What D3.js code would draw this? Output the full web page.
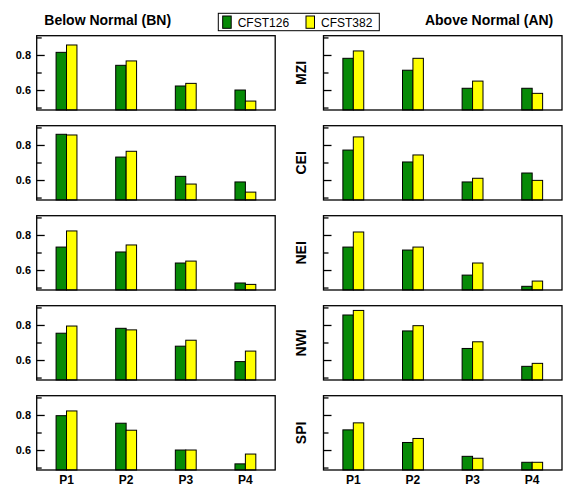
<!DOCTYPE html>
<html>
<head>
<meta charset="utf-8">
<script src="https://cdn.jsdelivr.net/npm/d3@7"></script>
<style>
  body { margin: 0; background: #fff; }
  svg { display: block; font-family: "Liberation Sans", Arial, Helvetica, sans-serif; }
</style>
</head>
<body>
<svg id="chart" width="579" height="503"></svg>
<script>
// categories
const periods = ["P1", "P2", "P3", "P4"];
const models = ["CFST126", "CFST382"];
const regions = ["MZI", "CEI", "NEI", "NWI", "SPI"];
const columns = ["Below Normal (BN)", "Above Normal (AN)"];

// Below Normal, one row per region (P1..P4)
const bn126 = [
  [0.815, 0.741, 0.623, 0.600],
  [0.861, 0.731, 0.621, 0.589],
  [0.731, 0.703, 0.640, 0.526],
  [0.753, 0.781, 0.679, 0.591],
  [0.796, 0.753, 0.600, 0.521]
];
const bn382 = [
  [0.857, 0.766, 0.638, 0.537],
  [0.857, 0.764, 0.577, 0.531],
  [0.823, 0.743, 0.651, 0.518],
  [0.794, 0.772, 0.713, 0.651],
  [0.823, 0.713, 0.600, 0.577]
];

// Above Normal
const an126 = [
  [0.781, 0.713, 0.610, 0.610],
  [0.771, 0.703, 0.589, 0.640],
  [0.731, 0.714, 0.571, 0.507],
  [0.857, 0.766, 0.666, 0.564],
  [0.715, 0.643, 0.564, 0.530]
];
const an382 = [
  [0.823, 0.781, 0.651, 0.581],
  [0.846, 0.743, 0.610, 0.598],
  [0.817, 0.731, 0.640, 0.537],
  [0.883, 0.796, 0.704, 0.581],
  [0.755, 0.666, 0.553, 0.530]
];

const yDomain = [0.486, 0.91];
const majorTicks = [0.6, 0.8];
const minorTicks = [0.5, 0.7, 0.9];

const colors = ["#078a07", "#ffff00"];

const svg = d3.select("#chart");

const panelW = 238.5, panelH = 74.3;
const colX = [36.7, 323.5];
const rowY = regions.map((r, i) => 35.7 + 90 * i);

const x = d3.scaleBand().domain(periods).range([0, panelW])
  .paddingInner(0.65).paddingOuter(0.325);
const xs = d3.scaleBand().domain(models).range([0, x.bandwidth()]);
const y = d3.scaleLinear().domain(yDomain).range([panelH, 0]);

const data = [[bn126, bn382], [an126, an382]];

columns.forEach((title, c) => {
  regions.forEach((region, r) => {
    const g = svg.append("g")
      .attr("transform", `translate(${colX[c]},${rowY[r]})`);

    // bars
    const rows = periods.map((p, k) => ({
      period: p,
      values: models.map((m, s) => ({ model: m, s: s, v: data[c][s][r][k] }))
    }));

    g.append("g").selectAll("g")
      .data(rows)
      .join("g")
      .attr("transform", d => `translate(${x(d.period)},0)`)
      .selectAll("rect")
      .data(d => d.values)
      .join("rect")
      .attr("x", d => xs(d.model))
      .attr("y", d => y(d.v))
      .attr("width", xs.bandwidth())
      .attr("height", d => panelH - y(d.v))
      .attr("fill", d => colors[d.s])
      .attr("stroke", "#000")
      .attr("stroke-width", 1);

    // minor ticks
    const minor = g.append("g")
      .call(d3.axisLeft(y).tickValues(minorTicks).tickSizeInner(-5).tickSizeOuter(0).tickFormat(""));
    minor.select(".domain").remove();
    minor.selectAll("line").attr("stroke-width", 1.3);

    // major ticks
    const major = g.append("g")
      .call(d3.axisLeft(y).tickValues(majorTicks).tickSizeInner(-8).tickSizeOuter(0)
        .tickPadding(5.7).tickFormat(c === 0 ? d3.format(".1f") : ""));
    major.select(".domain").remove();
    major.selectAll("line").attr("stroke-width", 1.3);
    major.selectAll("text")
      .attr("font-size", 11)
      .attr("font-weight", "bold")
      .attr("fill", "#000")
      .attr("font-family", "Liberation Sans, Arial, sans-serif");

    // frame
    g.append("rect")
      .attr("width", panelW)
      .attr("height", panelH)
      .attr("fill", "none")
      .attr("stroke", "#000")
      .attr("stroke-width", 1.3);

    // period labels on bottom row
    if (r === regions.length - 1) {
      g.append("g").selectAll("text")
        .data(periods)
        .join("text")
        .attr("x", d => x(d) + x.bandwidth() / 2)
        .attr("y", panelH + 14)
        .attr("text-anchor", "middle")
        .attr("font-size", 12)
        .attr("font-weight", "bold")
        .text(d => d);
    }

    // region label between columns
    if (c === 1) {
      svg.append("text")
        .attr("transform", `translate(305.5,${rowY[r] + panelH / 2}) rotate(-90)`)
        .attr("text-anchor", "middle")
        .attr("font-size", 14)
        .attr("font-weight", "bold")
        .text(region);
    }
  });
});

// column titles
svg.append("text")
  .attr("x", 44.3).attr("y", 25)
  .attr("font-size", 14).attr("font-weight", "bold")
  .text(columns[0]);
svg.append("text")
  .attr("x", 553.3).attr("y", 25)
  .attr("text-anchor", "end")
  .attr("font-size", 14).attr("font-weight", "bold")
  .text(columns[1]);

// legend
const legend = svg.append("g");
legend.append("rect")
  .attr("x", 218.3).attr("y", 13.3)
  .attr("width", 161).attr("height", 17.4)
  .attr("fill", "#fff").attr("stroke", "#000").attr("stroke-width", 1);

const legendX = d3.scalePoint().domain(models).range([222.7, 306]);
const items = legend.selectAll("g.item")
  .data(models)
  .join("g")
  .attr("class", "item")
  .attr("transform", d => `translate(${legendX(d)},16)`);
items.append("rect")
  .attr("width", 8.5).attr("height", 12.3)
  .attr("fill", (d, i) => colors[i])
  .attr("stroke", "#000").attr("stroke-width", 1);
items.append("text")
  .attr("x", 15).attr("y", 10.5)
  .attr("font-size", 12)
  .text(d => d);
</script>
</body>
</html>
